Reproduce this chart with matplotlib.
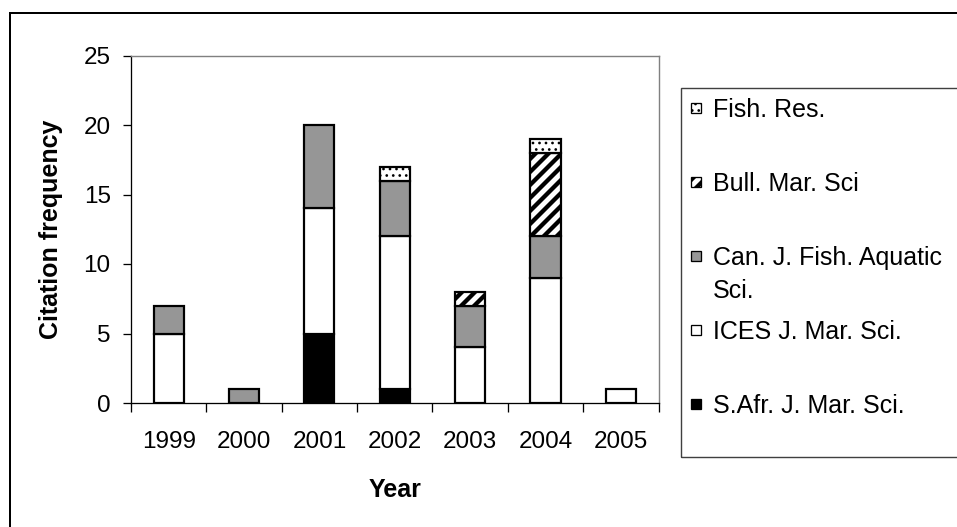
import matplotlib
matplotlib.use("Agg")
import matplotlib.pyplot as plt
from matplotlib.patches import Rectangle
import numpy as np

# citation counts per journal and year
years = ["1999", "2000", "2001", "2002", "2003", "2004", "2005"]
s_afr = [0, 0, 5, 1, 0, 0, 0]
ices = [5, 0, 9, 11, 4, 9, 1]
can_j = [2, 1, 6, 4, 3, 3, 0]
bull = [0, 0, 0, 0, 1, 6, 0]
fish_res = [0, 0, 0, 1, 0, 1, 0]

series_names = [
    "S.Afr. J. Mar. Sci.",
    "ICES J. Mar. Sci.",
    "Can. J. Fish. Aquatic\nSci.",
    "Bull. Mar. Sci",
    "Fish. Res.",
]
y_ticks = [0, 5, 10, 15, 20, 25]

W, H = 957, 527
# low dpi so the hatch spacing comes out like the Excel pattern
DPI = 78
plt.rcParams["font.family"] = ["Liberation Sans", "DejaVu Sans"]


def fx(px):
    return px / W


def fy(py):
    return 1 - py / H


def pt(px):
    return px * 72 / DPI


# fill, hatch, hatch line width (px) for each series, bottom to top
styles = [
    ("black", None, 1.4),
    ("white", None, 1.4),
    ("#969696", None, 1.4),
    ("white", "//", 4.3),
    ("white", "..", 1.4),
]

fig = plt.figure(figsize=(W / DPI, H / DPI), dpi=DPI)
ax = fig.add_axes([fx(131), fy(403), (658.5 - 131) / W, (403 - 55.5) / H])

x = np.arange(len(years))
bottom = np.zeros(len(years))
for vals, (fc, hatch, hlw) in zip([s_afr, ices, can_j, bull, fish_res], styles):
    vals = np.array(vals, dtype=float)
    keep = vals > 0
    with plt.rc_context({"hatch.linewidth": pt(hlw)}):
        bars = ax.bar(x[keep], vals[keep], width=0.4, bottom=bottom[keep],
                      color=fc, edgecolor="black", linewidth=pt(2.2), hatch=hatch, zorder=3)
    for b in bars:
        if hasattr(b, "set_hatch_linewidth"):
            b.set_hatch_linewidth(pt(hlw))
    bottom += vals

ax.set_xlim(-0.5, len(years) - 0.5)
ax.set_ylim(0, 25)
ax.set_yticks(y_ticks)
ax.set_xticks(x)
ax.set_xticklabels(years)
ax.set_xticks(np.arange(-0.5, len(years), 1), minor=True)
ax.tick_params(axis="x", which="major", length=0, pad=pt(28), labelsize=pt(24.3))
ax.tick_params(axis="x", which="minor", length=pt(9), width=pt(1.3), direction="out")
ax.tick_params(axis="y", length=pt(8.3), width=pt(1.3), direction="out", pad=pt(12),
               labelsize=pt(24.3))
for side in ["top", "right"]:
    ax.spines[side].set_color("#808080")
    ax.spines[side].set_linewidth(pt(1.4))
for side in ["left", "bottom"]:
    ax.spines[side].set_color("black")
    ax.spines[side].set_linewidth(pt(1.3))

fig.text(fx(51), fy(229), "Citation frequency", rotation=90, ha="center", va="center",
         fontsize=pt(25), fontweight="bold")
fig.text(fx(395), fy(496.7), "Year", ha="center", va="baseline",
         fontsize=pt(25), fontweight="bold")

# legend box, drawn by hand to keep the Excel layout
fig.add_artist(Rectangle((fx(680.5), fy(457)), (1000 - 680.5) / W, (457 - 88) / H,
                         transform=fig.transFigure, fill=False, ec="#404040", lw=pt(1.4)))
for i, (name, (fc, hatch, hlw)) in enumerate(zip(series_names[::-1], styles[::-1])):
    base = 117 + 74 * i
    with plt.rc_context({"hatch.linewidth": pt(hlw)}):
        sq = Rectangle((fx(690.5), fy(base - 4)), 10 / W, 10 / H, transform=fig.transFigure,
                       fc=fc, ec="black", lw=pt(1.3), hatch=hatch)
    if hasattr(sq, "set_hatch_linewidth"):
        sq.set_hatch_linewidth(pt(hlw))
    fig.add_artist(sq)
    for j, line in enumerate(name.split("\n")):
        fig.text(fx(713), fy(base + 33 * j), line, ha="left", va="baseline",
                 fontsize=pt(25))

# outer chart frame
fig.add_artist(Rectangle((fx(10), fy(560)), (1000 - 10) / W, (560 - 13) / H,
                         transform=fig.transFigure, fill=False, ec="black", lw=pt(2)))

fig.savefig("out.png", dpi=DPI)
